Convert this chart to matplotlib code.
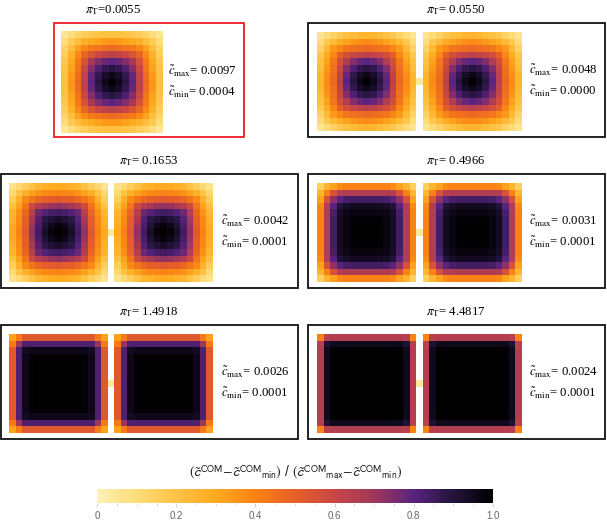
import numpy as np
import matplotlib
matplotlib.use('Agg')
from matplotlib import pyplot as plt
from matplotlib.colors import LinearSegmentedColormap, Normalize
from matplotlib.cm import ScalarMappable
from matplotlib.patches import Rectangle

W, H = 607, 525

pi_labels = ['0.0055', ' 0.0550', ' 0.1653', ' 0.4966', ' 1.4918', ' 4.4817']
c_max = ['0.0097', '0.0048', '0.0042', '0.0031', '0.0026', '0.0024']
c_min = ['0.0004', '0.0000', '0.0001', '0.0001', '0.0001', '0.0001']

# upper left quadrant of each square, the rest of the square is its mirror
q1 = [[.05, .09, .13, .16, .18, .20, .21, .22],
      [.09, .17, .22, .27, .30, .32, .34, .35],
      [.13, .22, .32, .38, .42, .44, .46, .47],
      [.16, .27, .38, .48, .55, .59, .62, .63],
      [.18, .30, .42, .55, .68, .74, .78, .80],
      [.20, .32, .44, .59, .74, .82, .87, .89],
      [.21, .34, .46, .62, .78, .87, .93, .96],
      [.22, .35, .47, .63, .80, .89, .96, 1.0]]
q2 = [[.06, .10, .14, .18, .21, .23, .25, .26],
      [.10, .18, .24, .29, .32, .35, .37, .38],
      [.14, .24, .34, .39, .43, .45, .46, .47],
      [.18, .29, .39, .50, .56, .60, .62, .63],
      [.21, .32, .43, .56, .66, .74, .78, .80],
      [.23, .35, .45, .60, .74, .82, .87, .89],
      [.25, .37, .46, .62, .78, .87, .93, .96],
      [.26, .38, .47, .63, .80, .89, .96, 1.0]]
q3 = [[.07, .11, .16, .21, .25, .27, .29, .30],
      [.11, .20, .27, .32, .36, .38, .39, .40],
      [.16, .27, .38, .44, .48, .50, .51, .52],
      [.21, .32, .44, .58, .65, .68, .71, .72],
      [.25, .36, .48, .65, .77, .81, .83, .84],
      [.27, .38, .50, .68, .81, .88, .91, .93],
      [.29, .39, .51, .71, .83, .91, .96, .98],
      [.30, .40, .52, .72, .84, .93, .98, 1.0]]
q4 = [[.15, .25, .32, .38, .40, .40, .40, .40],
      [.25, .40, .55, .65, .66, .66, .66, .66],
      [.32, .55, .72, .80, .83, .84, .84, .84],
      [.38, .65, .80, .90, .93, .94, .94, .94],
      [.40, .66, .83, .93, .96, .97, .97, .97],
      [.40, .66, .84, .94, .97, .99, .99, .99],
      [.40, .66, .84, .94, .97, .99, 1.0, 1.0],
      [.40, .66, .84, .94, .97, .99, 1.0, 1.0]]
q5 = [[.32, .42, .52, .52, .52, .52, .52, .52],
      [.42, .70, .82, .82, .82, .82, .82, .82],
      [.52, .82, .94, .96, .96, .96, .96, .96],
      [.52, .82, .96, .99, .99, .99, .99, .99],
      [.52, .82, .96, .99, 1.0, 1.0, 1.0, 1.0],
      [.52, .82, .96, .99, 1.0, 1.0, 1.0, 1.0],
      [.52, .82, .96, .99, 1.0, 1.0, 1.0, 1.0],
      [.52, .82, .96, .99, 1.0, 1.0, 1.0, 1.0]]
q6 = [[.40, .64, .65, .65, .65, .65, .65, .65],
      [.64, .91, .95, .95, .95, .95, .95, .95],
      [.65, .95, .99, 1.0, 1.0, 1.0, 1.0, 1.0],
      [.65, .95, 1.0, 1.0, 1.0, 1.0, 1.0, 1.0],
      [.65, .95, 1.0, 1.0, 1.0, 1.0, 1.0, 1.0],
      [.65, .95, 1.0, 1.0, 1.0, 1.0, 1.0, 1.0],
      [.65, .95, 1.0, 1.0, 1.0, 1.0, 1.0, 1.0],
      [.65, .95, 1.0, 1.0, 1.0, 1.0, 1.0, 1.0]]
quadrants = [q1, q2, q3, q4, q5, q6]
link_value = 0.04

cmap = LinearSegmentedColormap.from_list('com', [
    (0.0, '#fff0b4'), (0.1, '#fedc78'), (0.2, '#fec346'), (0.3, '#feaa1e'),
    (0.4, '#fa8214'), (0.5, '#e65f28'), (0.6, '#c84646'), (0.7, '#a0375a'),
    (0.8, '#5a237d'), (0.9, '#23143c'), (1.0, '#000000')])
cmap.set_bad('white')
norm = Normalize(0, 1)


def full_square(q):
    q = np.array(q)
    top = np.hstack([q, q[:, -2::-1]])
    return np.vstack([top, top[-2::-1]])


def two_squares(q):
    s = full_square(q)
    gap = np.full((15, 1), np.nan)
    gap[7, 0] = link_value
    return np.hstack([s, gap, s])


fig = plt.figure(figsize=(W / 100, H / 100), dpi=100)
ax = fig.add_axes([0, 0, 1, 1])

# frame (x0, y0, x1, y1), squares (x0, y0, x1, y1), title xy, text xy
frames = [(54, 23, 244, 137), (308, 23, 605, 137), (1, 174, 298, 288),
          (308, 174, 605, 288), (1, 325, 298, 439), (308, 325, 605, 439)]
squares = [(61, 31, 162.7, 132.7), (317.3, 32, 521.7, 130.7), (9.3, 182.7, 213.3, 281.7),
           (317.3, 182.7, 521.7, 281.7), (9.3, 334, 213.3, 432.7), (317.3, 334, 521.7, 432.7)]
title_xy = [(113, 10), (456, 10), (149, 161), (456, 161), (149, 312), (456, 312)]
text_xy = [(168, 71), (529, 70), (221, 221), (529, 221), (221, 372), (529, 372)]

for i in range(6):
    x0, y0, x1, y1 = squares[i]
    data = full_square(quadrants[i]) if i == 0 else two_squares(quadrants[i])
    ax.imshow(np.ma.masked_invalid(data), cmap=cmap, norm=norm, extent=(x0, x1, y1, y0),
              aspect='auto', interpolation='nearest', origin='upper')
    fx0, fy0, fx1, fy1 = frames[i]
    ax.add_patch(Rectangle((fx0, fy0), fx1 - fx0, fy1 - fy0, fill=False, lw=1.3,
                           edgecolor='#ee1c25' if i == 0 else '#111111'))
    ax.text(title_xy[i][0], title_xy[i][1], r'$\pi_{\mathrm{T}}$=' + pi_labels[i], ha='center', va='center',
            family='Liberation Serif', math_fontfamily='stix', fontsize=9.2)
    tx, ty = text_xy[i]
    ax.text(tx, ty, r'$\tilde{c}_{\mathrm{max}}$= ' + c_max[i], ha='left', va='center',
            family='Liberation Serif', math_fontfamily='stix', fontsize=9.2)
    ax.text(tx, ty + 21, r'$\tilde{c}_{\mathrm{min}}$= ' + c_min[i], ha='left', va='center',
            family='Liberation Serif', math_fontfamily='stix', fontsize=9.2)

ax.set_xlim(0, W)
ax.set_ylim(H, 0)
ax.axis('off')

ax.text(295.5, 473, r'$(\tilde{c}^{\mathrm{COM}}\!-\!\tilde{c}^{\mathrm{COM}}{}_{\mathrm{min}})$ / '
                    r'$(\tilde{c}^{\mathrm{COM}}{}_{\mathrm{max}}\!-\!\tilde{c}^{\mathrm{COM}}{}_{\mathrm{min}})$',
        ha='center', va='center', family='Liberation Sans', math_fontfamily='stixsans',
        fontsize=10.1, color='#222222')

# colour bar
cax = fig.add_axes([97.3 / W, 1 - 503.3 / H, (492.7 - 97.3) / W, 14 / H])
cb = fig.colorbar(ScalarMappable(norm=norm, cmap=cmap), cax=cax, orientation='horizontal')
cb.outline.set_visible(False)
cax.set_xticks([0, 0.2, 0.4, 0.6, 0.8, 1.0], labels=['0', '0.2', '0.4', '0.6', '0.8', '1.0'])
cax.set_xticks([t / 20 for t in range(21) if t % 4 != 0], minor=True)
cax.tick_params(axis='x', which='major', length=3, width=0.6, color='#cccccc', labelcolor='#666666',
                labelsize=7, pad=2.5)
cax.tick_params(axis='x', which='minor', length=2, width=0.6, color='#dddddd')
for lab in cax.get_xticklabels():
    lab.set_family('Liberation Sans')

fig.savefig('out.png', dpi=100)
